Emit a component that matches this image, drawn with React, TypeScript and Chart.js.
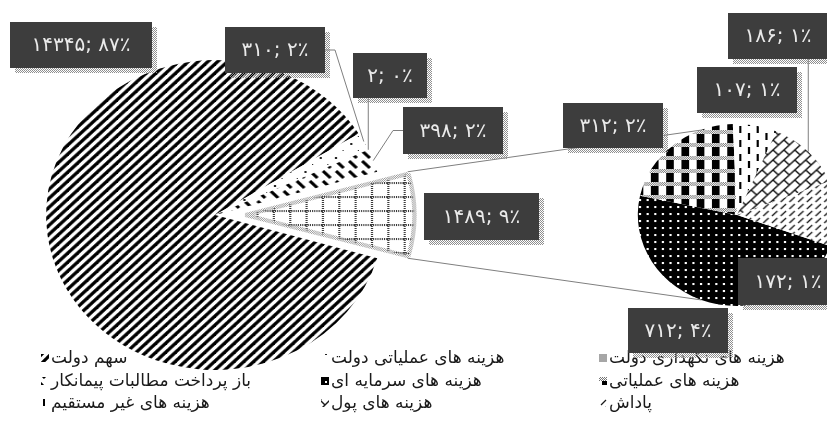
import React, { useEffect, useRef } from 'react';
import { Chart, registerables } from 'chart.js';

Chart.register(...registerables);

// ---------- data ----------
const mainLabels = ['سهم دولت', 'هزینه های عملیاتی دولت', 'هزینه های نگهداری دولت', 'باز پرداخت مطالبات پیمانکار'];
const mainValues = [14345, 310, 2, 398];
const otherLabel = 'سایر';
const secondLabels = ['هزینه های سرمایه ای', 'هزینه های عملیاتی', 'هزینه های غیر مستقیم', 'هزینه های پول', 'پاداش'];
const secondValues = [712, 312, 107, 186, 172];

// ---------- layout ----------
const W = 827;
const H = 421;
const STRETCH = 1.09;
const MAIN_CENTER = { x: 215, y: 215 };
const MAIN_R = 155;
const EXPLODE = 28;
const SECOND_CENTER = { x: 737, y: 215 };
const SECOND_R = 91;
const SECOND_ROTATION = 110;
const CONNECT_ANGLE = 111;

type Box = { x: number; y: number; w: number; h: number; leader: 'none' | 'right' | 'left' | 'bottom' };
const mainBoxes: Box[] = [
  { x: 10, y: 22, w: 142, h: 46, leader: 'none' },
  { x: 225, y: 27, w: 100, h: 46, leader: 'right' },
  { x: 353, y: 53, w: 74, h: 45, leader: 'bottom' },
  { x: 403, y: 107, w: 100, h: 47, leader: 'left' },
  { x: 424, y: 193, w: 115, h: 47, leader: 'none' },
];
const secondBoxes: Box[] = [
  { x: 628, y: 308, w: 100, h: 45, leader: 'none' },
  { x: 563, y: 103, w: 100, h: 45, leader: 'none' },
  { x: 697, y: 67, w: 100, h: 46, leader: 'none' },
  { x: 728, y: 13, w: 100, h: 46, leader: 'bottom' },
  { x: 738, y: 258, w: 100, h: 47, leader: 'none' },
];
const LEGEND_ICON_X = [41, 321, 599];
const LEGEND_ROW_Y = [358, 381, 403];
const LEGEND_FONT = '17px "DejaVu Sans"';
const LABEL_FONT = '20px "DejaVu Sans"';

const FA = '۰۱۲۳۴۵۶۷۸۹';
const toFa = (n: number) => String(n).replace(/\d/g, (d) => FA[+d]);

function tile(w: number, h: number, paint: (g: CanvasRenderingContext2D) => void): CanvasPattern {
  const c = document.createElement('canvas');
  c.width = w;
  c.height = h;
  const g = c.getContext('2d')!;
  paint(g);
  return g.createPattern(c, 'repeat')!;
}

function buildPatterns() {
  const white = (g: CanvasRenderingContext2D, w: number, h: number) => {
    g.fillStyle = '#fff';
    g.fillRect(0, 0, w, h);
  };
  const stripes = tile(9, 9, (g) => {
    white(g, 9, 9);
    g.strokeStyle = '#000';
    g.lineWidth = 3.2;
    for (const o of [-9, 0, 9]) {
      g.beginPath();
      g.moveTo(o - 2, 11);
      g.lineTo(o + 11, -2);
      g.stroke();
    }
  });
  const sparse = tile(14, 14, (g) => {
    white(g, 14, 14);
    g.fillStyle = '#222';
    g.fillRect(3, 3, 2, 2);
    g.fillRect(10, 10, 1, 1);
  });
  const dash = tile(12, 10, (g) => {
    white(g, 12, 10);
    g.strokeStyle = '#000';
    g.lineWidth = 3;
    g.beginPath();
    g.moveTo(2, 1);
    g.lineTo(9, 8);
    g.stroke();
  });
  const grid = tile(15, 14, (g) => {
    white(g, 15, 14);
    g.fillStyle = '#3a3a3a';
    for (let x = 0; x < 15; x += 2) g.fillRect(x, 0, 1, 2);
    for (let y = 0; y < 14; y += 2) g.fillRect(0, y, 2, 1);
  });
  const halo = tile(2, 2, (g) => {
    g.fillStyle = '#9a9a9a';
    g.fillRect(0, 0, 1, 1);
    g.fillRect(1, 1, 1, 1);
  });
  const blackDots = tile(7, 7, (g) => {
    g.fillStyle = '#000';
    g.fillRect(0, 0, 7, 7);
    g.fillStyle = '#fff';
    g.fillRect(3, 3, 2, 2);
  });
  const checker = tile(14, 13, (g) => {
    white(g, 14, 13);
    g.fillStyle = '#000';
    g.fillRect(0, 4, 7, 9);
    g.fillStyle = '#777';
    for (let y = 0; y < 4; y++) for (let x = y % 2; x < 14; x += 2) g.fillRect(x, y, 1, 1);
  });
  const vdash = tile(16, 14, (g) => {
    white(g, 16, 14);
    g.fillStyle = '#000';
    g.fillRect(3, 0, 2, 7);
    g.fillRect(11, 7, 2, 7);
  });
  const brick = tile(10, 10, (g) => {
    white(g, 10, 10);
    g.strokeStyle = '#1a1a1a';
    g.lineWidth = 1.4;
    for (const o of [-10, 0, 10]) {
      g.beginPath();
      g.moveTo(o - 1, 11);
      g.lineTo(o + 11, -1);
      g.stroke();
    }
    g.beginPath();
    g.moveTo(0, 0);
    g.lineTo(5, 5);
    g.stroke();
  });
  const slash = tile(8, 7, (g) => {
    white(g, 8, 7);
    g.strokeStyle = '#1a1a1a';
    g.lineWidth = 1.3;
    g.beginPath();
    g.moveTo(1, 6);
    g.lineTo(6, 1);
    g.stroke();
  });
  const shadow = tile(2, 2, (g) => {
    g.fillStyle = '#8f8f8f';
    g.fillRect(0, 0, 1, 1);
    g.fillRect(1, 1, 1, 1);
  });
  return { stripes, sparse, dash, grid, halo, blackDots, checker, vdash, brick, slash, shadow };
}

const explodeFix = (R: number) => ({
  id: 'explodeFix',
  beforeDatasetsDraw(chart: any) {
    for (const arc of chart.getDatasetMeta(0).data as any[]) {
      const off = (arc.options.offset || 0) / 4;
      const fix = 1 - Math.sin(Math.min(Math.PI, arc.circumference || 0));
      arc.outerRadius = R - off * fix;
    }
  },
});

const stretch = (sx: number) => ({
  id: 'stretch',
  beforeDatasetsDraw(chart: any) {
    const a = chart.getDatasetMeta(0).data[0];
    const ctx = chart.ctx;
    ctx.save();
    ctx.translate(a.x, a.y);
    ctx.scale(sx, 1);
    ctx.translate(-a.x, -a.y);
  },
  afterDatasetsDraw(chart: any) {
    chart.ctx.restore();
  },
});

export default function App() {
  const ref1 = useRef<HTMLCanvasElement>(null);
  const ref2 = useRef<HTMLCanvasElement>(null);

  useEffect(() => {
    document.body.style.margin = '0';
    const P = buildPatterns();
    const otherValue = secondValues.reduce((a, b) => a + b, 0);
    const mainData = [...mainValues, otherValue];
    const total = mainData.reduce((a, b) => a + b, 0);
    const otherDeg = (otherValue / total) * 360;
    const mainFills = [P.stripes, P.sparse, '#a6a6a6', P.dash, P.grid];
    const secondFills = [P.blackDots, P.checker, P.vdash, P.brick, P.slash];
    const labelText = (v: number) => `${toFa(v)}; ${toFa(Math.round((v / total) * 100))}٪`;

    const chart1 = new Chart(ref1.current!, {
      type: 'pie',
      data: {
        labels: [...mainLabels, otherLabel],
        datasets: [
          {
            data: mainData,
            backgroundColor: mainFills as any,
            borderWidth: mainData.map((_, i) => (i === mainData.length - 1 ? 4 : 0)),
            borderColor: P.halo as any,
            offset: mainData.map((_, i) => (i === mainData.length - 1 ? EXPLODE * 4 : 0)),
          },
        ],
      },
      options: {
        responsive: false,
        animation: false,
        events: [],
        rotation: 90 + otherDeg / 2,
        radius: MAIN_R,
        layout: {
          padding: { left: 0, right: W - 2 * MAIN_CENTER.x, top: 2 * MAIN_CENTER.y - H, bottom: 0 },
        },
        plugins: { legend: { display: false }, tooltip: { enabled: false } },
      } as any,
      plugins: [explodeFix(MAIN_R), stretch(STRETCH)],
    });

    const annotations = {
      id: 'annotations',
      afterDraw(chart: any) {
        const ctx: CanvasRenderingContext2D = chart.ctx;
        const a1 = chart1.getDatasetMeta(0).data as any[];
        const a2 = chart.getDatasetMeta(0).data as any[];
        const c1 = { x: a1[0].x, y: a1[0].y };
        const c2 = { x: a2[0].x, y: a2[0].y };
        const onMain = (ang: number, r: number, dx = 0, dy = 0) => ({
          x: c1.x + (dx + r * Math.cos(ang)) * STRETCH,
          y: c1.y + dy + r * Math.sin(ang),
        });
        const onSecond = (ang: number, r: number) => ({
          x: c2.x + r * Math.cos(ang) * STRETCH,
          y: c2.y + r * Math.sin(ang),
        });

        ctx.save();
        ctx.strokeStyle = '#7f7f7f';
        ctx.lineWidth = 1;
        // connectors
        const other = a1[a1.length - 1];
        const mid = (other.startAngle + other.endAngle) / 2;
        const ox = EXPLODE * Math.cos(mid);
        const oy = EXPLODE * Math.sin(mid);
        const pTop = onMain(other.startAngle, MAIN_R, ox, oy);
        const pBot = onMain(other.endAngle, MAIN_R, ox, oy);
        const qTop = onSecond((-CONNECT_ANGLE * Math.PI) / 180, SECOND_R);
        const qBot = onSecond((CONNECT_ANGLE * Math.PI) / 180, SECOND_R);
        ctx.beginPath();
        ctx.moveTo(pTop.x, pTop.y);
        ctx.lineTo(qTop.x, qTop.y);
        ctx.moveTo(pBot.x, pBot.y);
        ctx.lineTo(qBot.x, qBot.y);
        ctx.stroke();

        // leader lines
        const leader = (b: Box, anchor: { x: number; y: number }) => {
          ctx.beginPath();
          if (b.leader === 'right') {
            ctx.moveTo(b.x + b.w, b.y + b.h / 2);
            ctx.lineTo(b.x + b.w + 10, b.y + b.h / 2);
          } else if (b.leader === 'left') {
            ctx.moveTo(b.x, b.y + b.h / 2);
            ctx.lineTo(b.x - 10, b.y + b.h / 2);
          } else if (b.leader === 'bottom') {
            ctx.moveTo(Math.min(Math.max(anchor.x, b.x), b.x + b.w), b.y + b.h);
          } else return;
          ctx.lineTo(anchor.x, anchor.y);
          ctx.stroke();
        };
        mainBoxes.forEach((b, i) => {
          const arc = a1[i];
          leader(b, onMain((arc.startAngle + arc.endAngle) / 2, MAIN_R));
        });
        secondBoxes.forEach((b, i) => {
          const arc = a2[i];
          leader(b, onSecond((arc.startAngle + arc.endAngle) / 2, SECOND_R));
        });
        ctx.restore();

        // legend
        const entries = [
          ...mainLabels.map((t, i) => ({ t, f: mainFills[i] })),
          ...secondLabels.map((t, i) => ({ t, f: secondFills[i] })),
        ];
        ctx.save();
        ctx.font = LEGEND_FONT;
        ctx.textBaseline = 'middle';
        ctx.textAlign = 'left';
        (ctx as any).direction = 'rtl';
        entries.forEach((e, k) => {
          const col = k % 3;
          const row = Math.floor(k / 3);
          const ix = LEGEND_ICON_X[col];
          const iy = LEGEND_ROW_Y[row];
          ctx.fillStyle = e.f as any;
          ctx.fillRect(ix, iy - 4, 8, 8);
          ctx.fillStyle = '#1a1a1a';
          ctx.fillText(e.t, ix + 10, iy + 1);
        });
        ctx.restore();

        // data labels
        ctx.save();
        ctx.font = LABEL_FONT;
        ctx.textAlign = 'center';
        ctx.textBaseline = 'middle';
        (ctx as any).direction = 'ltr';
        const drawLabel = (b: Box, v: number) => {
          ctx.fillStyle = P.shadow;
          ctx.fillRect(b.x + 5, b.y + 5, b.w, b.h);
          ctx.fillStyle = '#3d3d3d';
          ctx.fillRect(b.x, b.y, b.w, b.h);
          ctx.fillStyle = '#eaeaea';
          ctx.fillText(labelText(v), b.x + b.w / 2, b.y + b.h / 2 + 1);
        };
        mainBoxes.forEach((b, i) => drawLabel(b, mainData[i]));
        secondBoxes.forEach((b, i) => drawLabel(b, secondValues[i]));
        ctx.restore();
      },
    };

    const chart2 = new Chart(ref2.current!, {
      type: 'pie',
      data: {
        labels: secondLabels,
        datasets: [{ data: secondValues, backgroundColor: secondFills as any, borderWidth: 0 }],
      },
      options: {
        responsive: false,
        animation: false,
        events: [],
        rotation: SECOND_ROTATION,
        radius: SECOND_R,
        layout: {
          padding: { left: 2 * SECOND_CENTER.x - W, right: 0, top: 2 * SECOND_CENTER.y - H, bottom: 0 },
        },
        plugins: { legend: { display: false }, tooltip: { enabled: false } },
      } as any,
      plugins: [stretch(STRETCH), annotations],
    });

    return () => {
      chart2.destroy();
      chart1.destroy();
    };
  }, []);

  const st: React.CSSProperties = { position: 'absolute', left: 0, top: 0, width: W + 'px', height: H + 'px' };
  return (
    <div style={{ position: 'absolute', left: 0, top: 0, width: W, height: H, background: '#fff', overflow: 'hidden' }}>
      <canvas ref={ref1} width={W} height={H} style={st} />
      <canvas ref={ref2} width={W} height={H} style={st} />
    </div>
  );
}
